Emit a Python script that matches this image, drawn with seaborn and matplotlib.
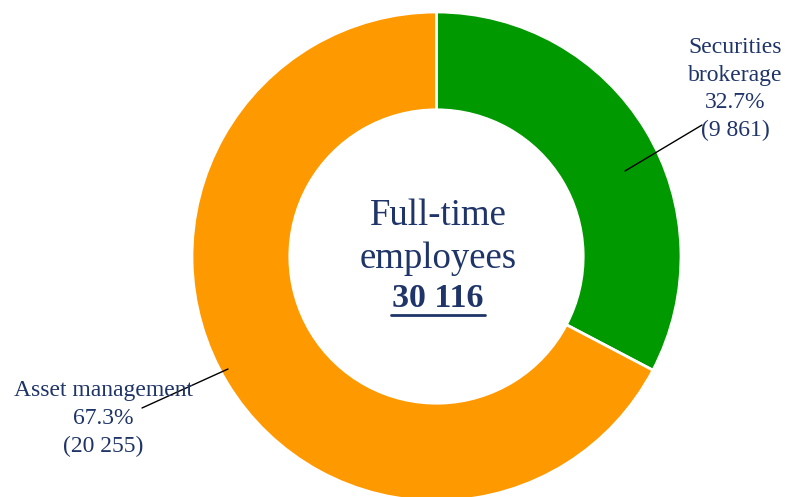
import matplotlib
matplotlib.use("Agg")
import matplotlib.pyplot as plt
import seaborn as sns

# Full-time employees by business line
segments = ["Securities\nbrokerage", "Asset management"]
shares = [32.7, 67.3]
headcounts = ["9 861", "20 255"]
total_label = "30 116"
colors = ["#009900", "#FF9900"]

sns.set_style("white")
plt.rcParams["font.family"] = ["Liberation Serif", "DejaVu Serif"]
navy = "#1F3468"

W, H, DPI = 785, 497, 100
fig = plt.figure(figsize=(W / DPI, H / DPI), dpi=DPI)
ax = fig.add_axes([0, 0, 1, 1])

# pixel geometry of the ring: center and outer radius
cx, cy, R = 436.5, 256.5, 244.5


def px(x, y):
    """Convert pixel position (from top-left) to data coordinates."""
    return (x - cx) / R, (cy - y) / R


def lines_at(x, baselines, lines, **kw):
    for yb, s in zip(baselines, lines):
        tx, ty = px(x, yb)
        ax.text(tx, ty, s, ha="center", va="baseline", color=navy, **kw)


ax.pie(shares, colors=colors, startangle=90, counterclock=False, radius=1,
       wedgeprops=dict(width=0.4, edgecolor="white", linewidth=2))
ax.set_xlim(-cx / R, (W - cx) / R)
ax.set_ylim(-(H - cy) / R, cy / R)
ax.set_aspect("equal")
ax.axis("off")

# Securities brokerage label
x0, y0 = px(625, 171)
x1, y1 = px(702, 125)
ax.plot([x0, x1], [y0, y1], color="black", lw=1)
lines_at(735.5, [53, 81, 108, 136],
         segments[0].split("\n") + [f"{shares[0]}%", f"({headcounts[0]})"],
         fontsize=17)

# Asset management label
x0, y0 = px(228, 369)
x1, y1 = px(142, 408)
ax.plot([x0, x1], [y0, y1], color="black", lw=1)
lines_at(103, [396, 424, 452],
         [segments[1], f"{shares[1]}%", f"({headcounts[1]})"],
         fontsize=17)

# Center title
lines_at(438, [225, 268], ["Full-time", "employees"], fontsize=26.5)
lines_at(438, [307], [total_label], fontsize=24.5, fontweight="bold")
ux0, uy = px(391, 315)
ux1, _ = px(485, 315)
ax.plot([ux0, ux1], [uy, uy], color=navy, lw=2)

fig.savefig("out.png", dpi=DPI)
